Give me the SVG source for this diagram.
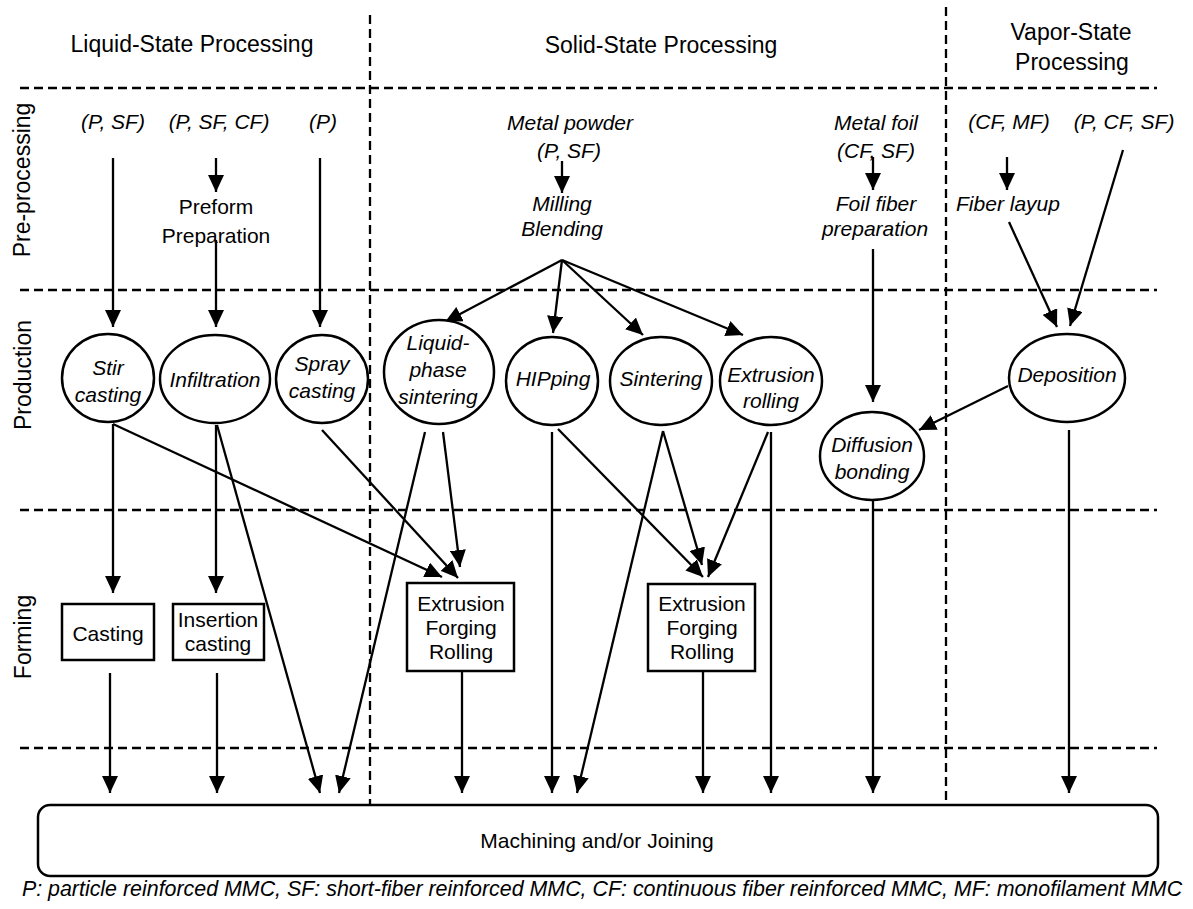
<svg xmlns="http://www.w3.org/2000/svg" width="1193" height="909" viewBox="0 0 1193 909">
<defs>
<marker id="ah" markerUnits="userSpaceOnUse" markerWidth="17" markerHeight="16" refX="17" refY="8" orient="auto">
<path d="M0,0 L17,8 L0,16 z" fill="#000"/>
</marker>
<style>
.t{font-family:"Liberation Sans",Arial,sans-serif;font-size:21px;fill:#000;text-anchor:middle}
.i{font-style:italic}
.h{font-size:23px}
.dash{stroke:#000;stroke-width:2.3;stroke-dasharray:9 5;fill:none}
.n{fill:#fff;stroke:#000;stroke-width:2.5}
.c{stroke:#000;stroke-width:2.3;fill:none}
.a{stroke:#000;stroke-width:2.3;fill:none;marker-end:url(#ah)}
</style>
</defs>
<rect width="1193" height="909" fill="#fff"/>
<g id="grid">
<line class="dash" x1="20" y1="88" x2="1157" y2="88"/>
<line class="dash" x1="20" y1="290" x2="1157" y2="290"/>
<line class="dash" x1="20" y1="510" x2="1157" y2="510"/>
<line class="dash" x1="20" y1="748" x2="1157" y2="748"/>
<line class="dash" x1="370" y1="15" x2="370" y2="805"/>
<line class="dash" x1="946" y1="7" x2="946" y2="805"/>
</g>
<g id="headers">
<text class="t h" x="192" y="52">Liquid-State Processing</text>
<text class="t h" x="661" y="53">Solid-State Processing</text>
<text class="t h" x="1071" y="40">Vapor-State</text>
<text class="t h" x="1072" y="70">Processing</text>
<text class="t h" transform="translate(30,180) rotate(-90)">Pre-processing</text>
<text class="t h" transform="translate(31,375) rotate(-90)">Production</text>
<text class="t h" transform="translate(31,637) rotate(-90)">Forming</text>
</g>
<g id="connectors">
<line class="a" x1="113" y1="158" x2="113" y2="327"/>
<line class="a" x1="216" y1="158" x2="216" y2="192"/>
<line class="a" x1="216" y1="240" x2="216" y2="327"/>
<line class="a" x1="320" y1="158" x2="320" y2="327"/>
<line class="a" x1="562" y1="161" x2="562" y2="193"/>
<line class="a" x1="562" y1="260" x2="445" y2="322"/>
<line class="a" x1="562" y1="260" x2="553" y2="333"/>
<line class="a" x1="562" y1="260" x2="643" y2="335"/>
<line class="a" x1="562" y1="260" x2="743" y2="335"/>
<line class="a" x1="873" y1="157" x2="873" y2="190"/>
<line class="a" x1="873" y1="249" x2="873" y2="402"/>
<line class="a" x1="1007" y1="157" x2="1007" y2="190"/>
<line class="a" x1="1009" y1="222" x2="1057" y2="327"/>
<line class="a" x1="1123" y1="150" x2="1070" y2="326"/>
<line class="a" x1="1008" y1="386" x2="919" y2="430"/>
<line class="a" x1="113" y1="424" x2="113" y2="593"/>
<line class="a" x1="113" y1="424" x2="442" y2="577"/>
<line class="a" x1="216" y1="425" x2="216" y2="593"/>
<line class="a" x1="217" y1="425" x2="320" y2="793"/>
<line class="a" x1="322" y1="430" x2="458" y2="578"/>
<line class="a" x1="443" y1="432" x2="460" y2="567"/>
<line class="a" x1="425" y1="432" x2="339" y2="793"/>
<line class="a" x1="552" y1="432" x2="552" y2="793"/>
<line class="a" x1="558" y1="429" x2="703" y2="577"/>
<line class="a" x1="663" y1="431" x2="702" y2="565"/>
<line class="a" x1="663" y1="431" x2="577" y2="793"/>
<line class="a" x1="768" y1="432" x2="708" y2="577"/>
<line class="a" x1="771" y1="432" x2="771" y2="793"/>
<line class="a" x1="873" y1="500" x2="873" y2="793"/>
<line class="a" x1="1069" y1="430" x2="1069" y2="793"/>
<line class="a" x1="110" y1="673" x2="110" y2="793"/>
<line class="a" x1="217" y1="673" x2="217" y2="793"/>
<line class="a" x1="462" y1="671" x2="462" y2="793"/>
<line class="a" x1="703" y1="671" x2="703" y2="793"/>
</g>
<g id="inputs">
<text class="t i" x="113" y="129">(P, SF)</text>
<text class="t i" x="219" y="129">(P, SF, CF)</text>
<text class="t i" x="323" y="129">(P)</text>
<text class="t i" x="570" y="130">Metal powder</text>
<text class="t i" x="569" y="158">(P, SF)</text>
<text class="t i" x="876" y="130">Metal foil</text>
<text class="t i" x="876" y="158">(CF, SF)</text>
<text class="t i" x="1009" y="129">(CF, MF)</text>
<text class="t i" x="1124" y="129">(P, CF, SF)</text>
</g>
<g id="preform"><text class="t" x="216" y="214">Preform</text><text class="t" x="216" y="243">Preparation</text></g>
<g id="milling"><text class="t i" x="562" y="211">Milling</text><text class="t i" x="562" y="236">Blending</text></g>
<g id="foilprep"><text class="t i" x="876" y="211">Foil fiber</text><text class="t i" x="875" y="236">preparation</text></g>
<g id="layup"><text class="t i" x="1008" y="211">Fiber layup</text></g>
<g id="stir"><ellipse class="n" cx="108" cy="378" rx="46" ry="44"/><text class="t i" x="108" y="375">Stir</text><text class="t i" x="108" y="402">casting</text></g>
<g id="infiltration"><ellipse class="n" cx="215" cy="379" rx="55" ry="44"/><text class="t i" x="215" y="387">Infiltration</text></g>
<g id="spray"><ellipse class="n" cx="322" cy="379" rx="46" ry="44"/><text class="t i" x="322" y="371">Spray</text><text class="t i" x="322" y="398">casting</text></g>
<g id="lps"><ellipse class="n" cx="439" cy="372" rx="55" ry="52"/><text class="t i" x="438" y="350">Liquid-</text><text class="t i" x="438" y="377">phase</text><text class="t i" x="438" y="404">sintering</text></g>
<g id="hipping"><ellipse class="n" cx="552" cy="381" rx="46" ry="44"/><text class="t i" x="553" y="386">HIPping</text></g>
<g id="sintering"><ellipse class="n" cx="661" cy="381" rx="51" ry="44"/><text class="t i" x="661" y="386">Sintering</text></g>
<g id="extroll"><ellipse class="n" cx="771" cy="381" rx="51" ry="44"/><text class="t i" x="771" y="382">Extrusion</text><text class="t i" x="771" y="408">rolling</text></g>
<g id="diffusion"><ellipse class="n" cx="872" cy="456" rx="52" ry="44"/><text class="t i" x="872" y="452">Diffusion</text><text class="t i" x="872" y="479">bonding</text></g>
<g id="deposition"><ellipse class="n" cx="1067" cy="378" rx="58" ry="44"/><text class="t i" x="1067" y="382">Deposition</text></g>
<g id="casting"><rect class="n" x="62" y="604" width="92" height="56"/><text class="t" x="108" y="641">Casting</text></g>
<g id="insertion"><rect class="n" x="173" y="604" width="91" height="56"/><text class="t" x="218" y="627">Insertion</text><text class="t" x="218" y="651">casting</text></g>
<g id="efr1"><rect class="n" x="407" y="583" width="107" height="88"/><text class="t" x="461" y="611">Extrusion</text><text class="t" x="461" y="635">Forging</text><text class="t" x="461" y="659">Rolling</text></g>
<g id="efr2"><rect class="n" x="648" y="584" width="107" height="87"/><text class="t" x="702" y="611">Extrusion</text><text class="t" x="702" y="635">Forging</text><text class="t" x="702" y="659">Rolling</text></g>
<g id="machining"><rect class="n" x="38" y="805" width="1120" height="71" rx="12"/><text class="t" x="597" y="848">Machining and/or Joining</text></g>
<g id="footnote"><text class="t i" x="602" y="896" style="font-size:21.4px">P: particle reinforced MMC, SF: short-fiber reinforced MMC, CF: continuous fiber reinforced MMC, MF: monofilament MMC</text></g>
</svg>
